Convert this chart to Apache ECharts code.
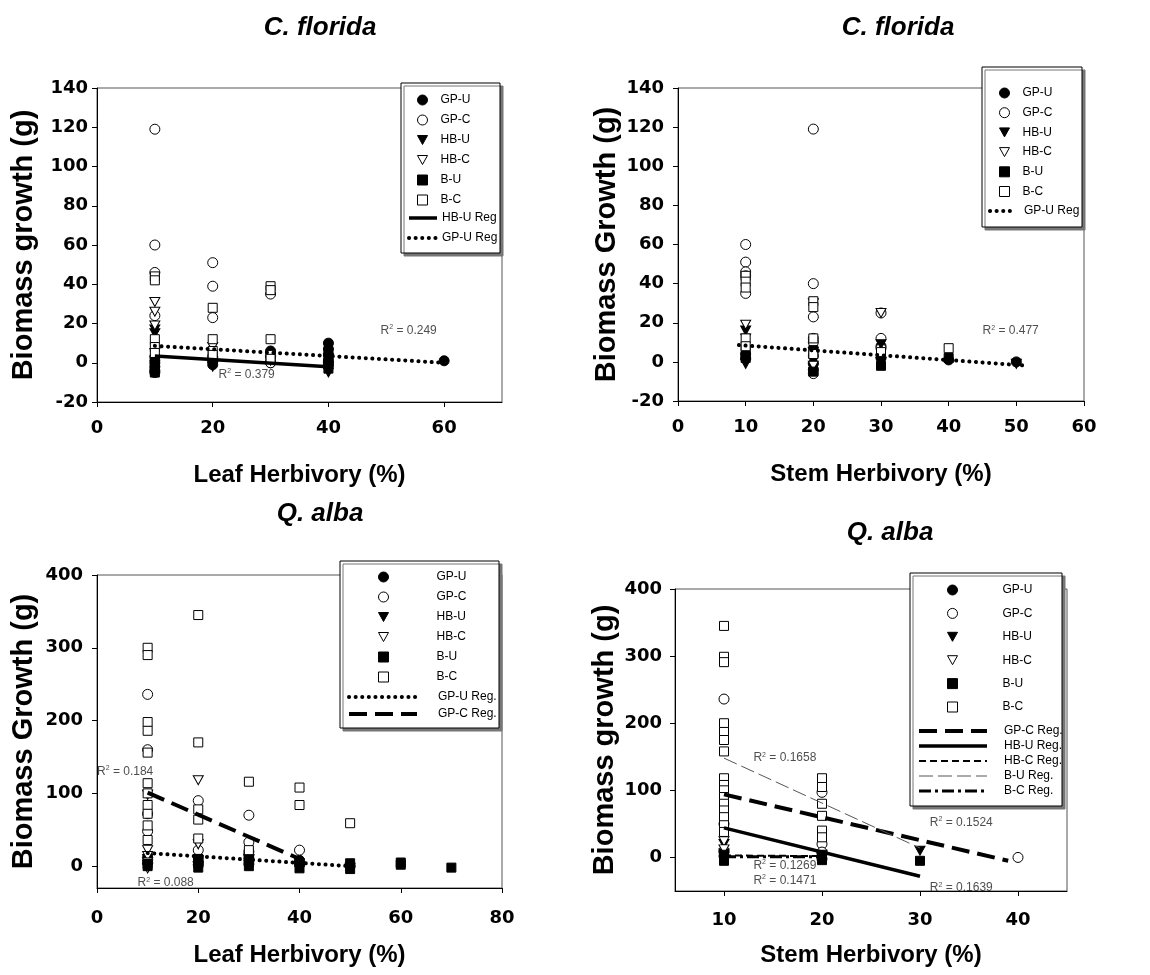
<!DOCTYPE html>
<html>
<head>
<meta charset="utf-8">
<title>Biomass growth vs herbivory</title>
<script src="https://cdn.jsdelivr.net/npm/echarts@6/dist/echarts.min.js"></script>
<style>
  html, body { margin: 0; padding: 0; background: #fff; }
  #main { width: 1150px; height: 975px; }
</style>
</head>
<body>
<div id="main"></div>
<script>
// ---- C. florida, leaf herbivory ----
var cfLeafGPU = [[10,3],[10,0],[10,-2],[10,-4],[20,1],[20,-1],[30,6],[30,0],[40,10],[40,7],[40,4],[40,1],[40,-1],[60,1]];
var cfLeafGPC = [[10,119],[10,60],[10,46],[10,24],[10,-5],[20,51],[20,39],[20,23],[20,3],[30,35],[30,0]];
var cfLeafHBU = [[10,17],[10,15],[10,5],[10,-1],[20,0],[20,-2],[30,1],[40,-2],[40,-5]];
var cfLeafHBC = [[10,31],[10,26],[10,19],[20,8],[40,2]];
var cfLeafBU = [[10,2],[10,-3],[10,-5],[20,2],[30,3],[40,4],[40,0],[40,-3]];
var cfLeafBC = [[10,44],[10,42],[10,12],[10,8],[10,5],[20,28],[20,12],[20,6],[20,4],[30,39],[30,37],[30,12],[30,4],[30,2]];
var cfLeafHBUReg = [[10,3.5],[40,-2]];
var cfLeafGPUReg = [[10,8.6],[60,0]];
var cfLeafR2 = [[49,16.5,'0.249'],[21,-6,'0.379']];
var cfLeafXTicks = [0,20,40,60];
var cfYTicks = [-20,0,20,40,60,80,100,120,140];

// ---- C. florida, stem herbivory ----
var cfStemGPU = [[10,4],[10,2],[20,3],[20,-1],[20,-4],[30,8],[30,2],[40,1],[50,0]];
var cfStemGPC = [[10,60],[10,51],[10,46],[10,44],[10,35],[20,119],[20,40],[20,23],[20,12],[20,10],[20,-6],[30,25],[30,12],[30,7]];
var cfStemHBU = [[10,16],[10,12],[10,-1],[20,5],[20,-3],[30,9],[30,0],[50,-1]];
var cfStemHBC = [[10,19],[20,30],[20,-2],[30,25]];
var cfStemBU = [[10,6],[10,2],[20,6],[20,-5],[30,4],[30,-2],[40,2]];
var cfStemBC = [[10,44],[10,41],[10,38],[10,12],[10,8],[20,31],[20,28],[20,12],[20,4],[30,5],[40,7]];
var cfStemGPUReg = [[9,8.6],[51,-1.8]];
var cfStemR2 = [[45,16,'0.477']];
var cfStemXTicks = [0,10,20,30,40,50,60];

// ---- Q. alba, leaf herbivory ----
var qaLeafGPU = [[10,12],[10,5],[20,12],[20,6],[20,2],[30,15],[30,8],[30,3],[40,8],[40,2],[50,0]];
var qaLeafGPC = [[10,236],[10,160],[10,72],[10,48],[20,90],[20,22],[30,70],[30,33],[30,20],[40,22]];
var qaLeafHBU = [[10,10],[10,2],[20,8],[20,0],[30,5],[40,0],[50,-2]];
var qaLeafHBC = [[10,98],[10,22],[10,14],[10,5],[10,-3],[20,118],[20,30],[30,10]];
var qaLeafBU = [[10,3],[10,0],[20,10],[20,4],[20,-2],[30,12],[30,0],[40,5],[40,-3],[50,4],[50,-4],[60,5],[60,2],[70,-2]];
var qaLeafBC = [[10,300],[10,290],[10,198],[10,186],[10,156],[10,114],[10,100],[10,84],[10,72],[10,56],[10,36],[20,345],[20,170],[20,78],[20,64],[20,38],[30,116],[30,22],[40,108],[40,84],[50,59]];
var qaLeafGPUReg = [[10,18],[50,0]];
var qaLeafGPCReg = [[10,101],[40,10]];
var qaLeafR2 = [[0,130,'0.184'],[8,-23,'0.088']];
var qaLeafXTicks = [0,20,40,60,80];
var qaYTicks = [0,100,200,300,400];

// ---- Q. alba, stem herbivory ----
var qaStemGPU = [[10,8],[10,2],[20,6],[20,-2]];
var qaStemGPC = [[10,236],[10,50],[10,10],[20,97],[20,20],[20,8],[40,0]];
var qaStemHBU = [[10,20],[10,6],[20,4],[30,10]];
var qaStemHBC = [[10,24],[10,12],[20,2]];
var qaStemBU = [[10,4],[10,-2],[10,-5],[20,0],[20,-4],[30,-5]];
var qaStemBC = [[10,345],[10,299],[10,291],[10,200],[10,187],[10,175],[10,158],[10,118],[10,108],[10,100],[10,90],[10,80],[10,70],[10,60],[10,48],[10,38],[20,118],[20,105],[20,80],[20,62],[20,40],[20,30]];
var qaStemGPCReg = [[10,94],[39,-5]];
var qaStemHBUReg = [[10,44],[30,-28]];
var qaStemHBCReg = [[10,3],[20,2]];
var qaStemBUReg = [[10,148],[30,14]];
var qaStemBCReg = [[10,1],[20,1]];
var qaStemR2 = [[13,148,'0.1658'],[31,52,'0.1524'],[13,-12,'0.1269'],[13,-34,'0.1471'],[31,-45,'0.1639']];
var qaStemXTicks = [10,20,30,40];

var symbolNames = ['GP-U','GP-C','HB-U','HB-C','B-U','B-C'];

var chart = echarts.init(document.getElementById('main'));

var FONT = '"Liberation Sans", Arial, sans-serif';
var TICKFONT = '"DejaVu Sans", sans-serif';
var downTri = 'path://M0,0L10,0L5,9Z';

var markers = {
  'GP-U': { symbol: 'circle', size: 10, fill: '#000' },
  'GP-C': { symbol: 'circle', size: 10, fill: '#fff' },
  'HB-U': { symbol: downTri, size: [10, 9], fill: '#000' },
  'HB-C': { symbol: downTri, size: [10, 9], fill: '#fff' },
  'B-U': { symbol: 'rect', size: 9, fill: '#000' },
  'B-C': { symbol: 'rect', size: 9, fill: '#fff' }
};

var lineKinds = {
  dot: { width: 4, type: [0.1, 6.5], cap: 'round', color: '#000' },
  solid: { width: 3.5, type: 'solid', color: '#000' },
  bigdash: { width: 4, type: [18, 8], color: '#000' },
  dash: { width: 2, type: [7, 4], color: '#000' },
  thin: { width: 1, type: [14, 5], color: '#555' },
  dashdot: { width: 3, type: [12, 4, 3, 4], color: '#000' }
};

function scatter(name, data, k) {
  var m = markers[name];
  return {
    type: 'scatter', name: name, xAxisIndex: k, yAxisIndex: k, data: data,
    symbol: m.symbol, symbolSize: m.size,
    itemStyle: { color: m.fill, borderColor: '#000', borderWidth: 1, opacity: 1 },
    emphasis: { disabled: true }, z: 3
  };
}

function reg(name, data, k, kind) {
  var ls = lineKinds[kind];
  return {
    type: 'line', name: name, xAxisIndex: k, yAxisIndex: k, data: data,
    symbol: 'none', lineStyle: ls, itemStyle: { color: ls.color },
    emphasis: { disabled: true }, z: 4, silent: true
  };
}

function r2labels(data, k) {
  return {
    type: 'scatter', name: 'r2_' + k, xAxisIndex: k, yAxisIndex: k, data: data,
    symbolSize: 0, silent: true, z: 6,
    label: {
      show: true, position: 'right', distance: 0,
      formatter: function (p) { return 'R{s|2} = ' + p.value[2]; },
      color: '#222', fontSize: 12, fontFamily: FONT,
      rich: { s: { fontSize: 7, fontFamily: FONT, color: '#222', verticalAlign: 'top', padding: [0, 0, 6, 0] } }
    }
  };
}

function xAxis(k, min, max, ticks, name, gap, margin) {
  return {
    type: 'value', gridIndex: k, min: min, max: max,
    name: name, nameLocation: 'middle', nameGap: gap,
    nameTextStyle: { fontSize: 24, fontWeight: 'bold', fontFamily: FONT, color: '#000' },
    axisLine: { show: true, onZero: false, lineStyle: { color: '#000', width: 1 } },
    axisTick: { show: true, length: 5, customValues: ticks, lineStyle: { color: '#000' } },
    axisLabel: { customValues: ticks, margin: margin, fontSize: 18, fontWeight: 'bold', fontFamily: TICKFONT, color: '#000' },
    splitLine: { show: false }
  };
}

function yAxis(k, min, max, ticks, name, gap, margin) {
  return {
    type: 'value', gridIndex: k, min: min, max: max,
    name: name, nameLocation: 'middle', nameGap: gap, nameRotate: 90,
    nameTextStyle: { fontSize: 29, fontWeight: 'bold', fontFamily: FONT, color: '#000' },
    axisLine: { show: true, onZero: false, lineStyle: { color: '#000', width: 1 } },
    axisTick: { show: true, length: 5, customValues: ticks, lineStyle: { color: '#000' } },
    axisLabel: { customValues: ticks, margin: margin, fontSize: 18, fontWeight: 'bold', fontFamily: TICKFONT, color: '#000' },
    splitLine: { show: false }
  };
}

function symLegend(left, top, gap, pad) {
  return {
    data: symbolNames, orient: 'vertical', left: left, top: top, padding: 0,
    itemWidth: 10, itemHeight: 10, itemGap: gap, selectedMode: false, z: 6,
    itemStyle: { borderWidth: 1 },
    textStyle: { fontSize: 12, fontFamily: FONT, color: '#000', padding: [0, 0, 0, pad] }
  };
}

function lineLegend(items, left, top, width, gap, pad) {
  return {
    data: items.map(function (it) {
      var ls = lineKinds[it[1]];
      return {
        name: it[0],
        itemStyle: { opacity: 0 },
        lineStyle: { width: ls.width, type: ls.type, cap: ls.cap || 'butt', color: ls.color }
      };
    }),
    orient: 'vertical', left: left, top: top, padding: 0,
    itemWidth: width, itemHeight: 10, itemGap: gap, selectedMode: false, z: 6,
    textStyle: { fontSize: 12, fontFamily: FONT, color: '#000', padding: [0, 0, 0, pad] }
  };
}

function legendBox(x, y, w, h) {
  return {
    type: 'rect', x: x, y: y, z: 5,
    shape: { width: w, height: h },
    style: { fill: '#fff', stroke: '#000', lineWidth: 1, shadowColor: '#777', shadowOffsetX: 3, shadowOffsetY: 3, shadowBlur: 0 }
  };
}

function titleText(text, x, y) {
  return {
    type: 'text', x: x, y: y, z: 6,
    style: { text: text, fontSize: 26, fontWeight: 'bold', fontStyle: 'italic', fontFamily: FONT, fill: '#000', align: 'center', verticalAlign: 'middle' }
  };
}

var series = [];
[[cfLeafGPU, cfLeafGPC, cfLeafHBU, cfLeafHBC, cfLeafBU, cfLeafBC],
 [cfStemGPU, cfStemGPC, cfStemHBU, cfStemHBC, cfStemBU, cfStemBC],
 [qaLeafGPU, qaLeafGPC, qaLeafHBU, qaLeafHBC, qaLeafBU, qaLeafBC],
 [qaStemGPU, qaStemGPC, qaStemHBU, qaStemHBC, qaStemBU, qaStemBC]].forEach(function (sets, k) {
  sets.forEach(function (d, i) { series.push(scatter(symbolNames[i], d, k)); });
});

series.push(reg('HB-U Reg', cfLeafHBUReg, 0, 'solid'));
series.push(reg('GP-U Reg', cfLeafGPUReg, 0, 'dot'));
series.push(reg('GP-U Reg', cfStemGPUReg, 1, 'dot'));
series.push(reg('GP-U Reg.', qaLeafGPUReg, 2, 'dot'));
series.push(reg('GP-C Reg.', qaLeafGPCReg, 2, 'bigdash'));
series.push(reg('GP-C Reg.', qaStemGPCReg, 3, 'bigdash'));
series.push(reg('HB-U Reg.', qaStemHBUReg, 3, 'solid'));
series.push(reg('HB-C Reg.', qaStemHBCReg, 3, 'dash'));
series.push(reg('B-U Reg.', qaStemBUReg, 3, 'thin'));
series.push(reg('B-C Reg.', qaStemBCReg, 3, 'dashdot'));

series.push(r2labels(cfLeafR2, 0));
series.push(r2labels(cfStemR2, 1));
series.push(r2labels(qaLeafR2, 2));
series.push(r2labels(qaStemR2, 3));

var option = {
  animation: false,
  backgroundColor: '#fff',
  grid: [
    { left: 97, top: 88, width: 405, height: 314, show: true, borderColor: '#555', borderWidth: 1 },
    { left: 678, top: 88, width: 406, height: 313, show: true, borderColor: '#555', borderWidth: 1 },
    { left: 97, top: 575, width: 405, height: 313, show: true, borderColor: '#555', borderWidth: 1 },
    { left: 675, top: 589, width: 392, height: 302, show: true, borderColor: '#555', borderWidth: 1 }
  ],
  xAxis: [
    xAxis(0, 0, 70, cfLeafXTicks, 'Leaf Herbivory (%)', 61, 17),
    xAxis(1, 0, 60, cfStemXTicks, 'Stem Herbivory (%)', 61, 17),
    xAxis(2, 0, 80, qaLeafXTicks, 'Leaf Herbivory (%)', 55, 21),
    xAxis(3, 5, 45, qaStemXTicks, 'Stem Herbivory (%)', 52, 20)
  ],
  yAxis: [
    yAxis(0, -20, 140, cfYTicks, 'Biomass growth (g)', 59, 9),
    yAxis(1, -20, 140, cfYTicks, 'Biomass Growth (g)', 57, 14),
    yAxis(2, -30, 400, qaYTicks, 'Biomass Growth (g)', 59, 14),
    yAxis(3, -50, 400, qaYTicks, 'Biomass growth (g)', 56, 13)
  ],
  legend: [
    symLegend(417, 94, 8, 8),
    lineLegend([['HB-U Reg', 'solid'], ['GP-U Reg', 'dot']], 407, 212, 28, 8, 0),
    symLegend(999, 87, 7.7, 8),
    lineLegend([['GP-U Reg', 'dot']], 988, 205, 24, 8, 5),
    symLegend(378, 571, 8, 43),
    lineLegend([['GP-U Reg.', 'dot'], ['GP-C Reg.', 'bigdash']], 347, 691, 68, 5, 16),
    symLegend(947, 584, 11.4, 40),
    lineLegend([['GP-C Reg.', 'bigdash'], ['HB-U Reg.', 'solid'], ['HB-C Reg.', 'dash'], ['B-U Reg.', 'thin'], ['B-C Reg.', 'dashdot']], 917, 725, 68, 3, 12)
  ],
  graphic: [
    legendBox(401, 83, 99, 170),
    legendBox(982, 67, 100, 160),
    legendBox(340, 561, 159, 167),
    legendBox(910, 573, 152, 233),
    titleText('C. florida', 320, 28),
    titleText('C. florida', 898, 28),
    titleText('Q. alba', 320, 514),
    titleText('Q. alba', 890, 533)
  ],
  series: series
};

chart.setOption(option);
</script>
</body>
</html>
